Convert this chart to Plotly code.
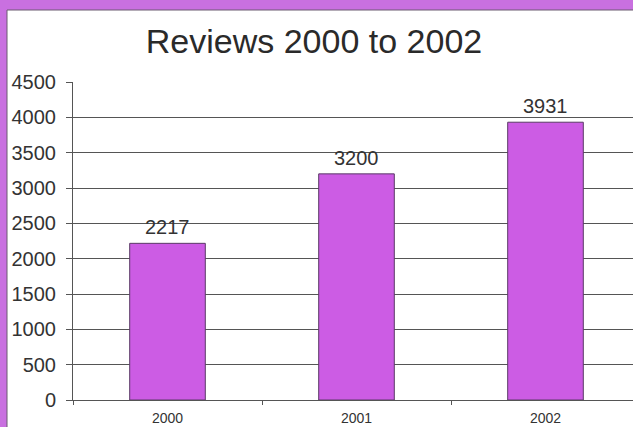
import plotly.graph_objects as go

years = ["2000", "2001", "2002"]
reviews = [2217, 3200, 3931]
y_ticks = [0, 500, 1000, 1500, 2000, 2500, 3000, 3500, 4000, 4500]

W, H = 633, 427
ML, MT, MB = 73, 82, 27
plot_w = W - ML
plot_h = H - MT - MB
cat_px = 189

def px_x(p):
    return (p - ML) / plot_w

def px_y(p):
    return (H - MB - p) / plot_h

fig = go.Figure(
    go.Bar(
        x=years,
        y=reviews,
        width=0.4,
        marker=dict(color="#cc5ce4", line=dict(color="#5a3a66", width=1)),
    )
)

# Value labels above each bar (category index positions on the x axis)
for i, v in enumerate(reviews):
    fig.add_annotation(
        x=i, y=v, xref="x", yref="y", text=str(v), showarrow=False,
        yanchor="bottom", yshift=3,
        font=dict(family="Liberation Sans, Arial", size=20, color="#333333"),
    )

# White card with a thin edge sitting on the purple background
fig.add_shape(
    type="rect", xref="paper", yref="paper", layer="below",
    x0=px_x(7), x1=px_x(W + 5), y0=px_y(H + 5), y1=px_y(10),
    fillcolor="white", line=dict(color="#6a5a70", width=1),
)

fig.update_layout(
    width=W, height=H,
    margin=dict(l=ML, r=0, t=MT, b=MB, autoexpand=False),
    paper_bgcolor="#c970e0",
    plot_bgcolor="rgba(0,0,0,0)",
    showlegend=False,
    title=dict(
        text="Reviews 2000 to 2002",
        x=314 / W, xanchor="center",
        y=1 - 41 / H, yanchor="middle",
        font=dict(family="Liberation Sans, Arial", size=34, color="#2a2a2a"),
    ),
    font=dict(family="Liberation Sans, Arial", color="#333333"),
)

fig.update_xaxes(
    type="category",
    range=[-0.5, -0.5 + plot_w / cat_px],
    tickson="boundaries",
    ticks="outside", ticklen=4, tickcolor="#555555",
    showline=True, linecolor="#555555", linewidth=1,
    showgrid=False,
    tickfont=dict(size=14, color="#333333"),
    ticklabelstandoff=5,
    automargin=False,
)

fig.update_yaxes(
    range=[0, 4500],
    tickvals=y_ticks,
    ticks="outside", ticklen=6, tickcolor="#555555",
    showline=True, linecolor="#555555", linewidth=1,
    showgrid=True, gridcolor="#555555", gridwidth=1,
    zeroline=False,
    tickfont=dict(size=20, color="#333333"),
    ticklabelstandoff=6,
    automargin=False,
)

fig.write_html("out.html")
